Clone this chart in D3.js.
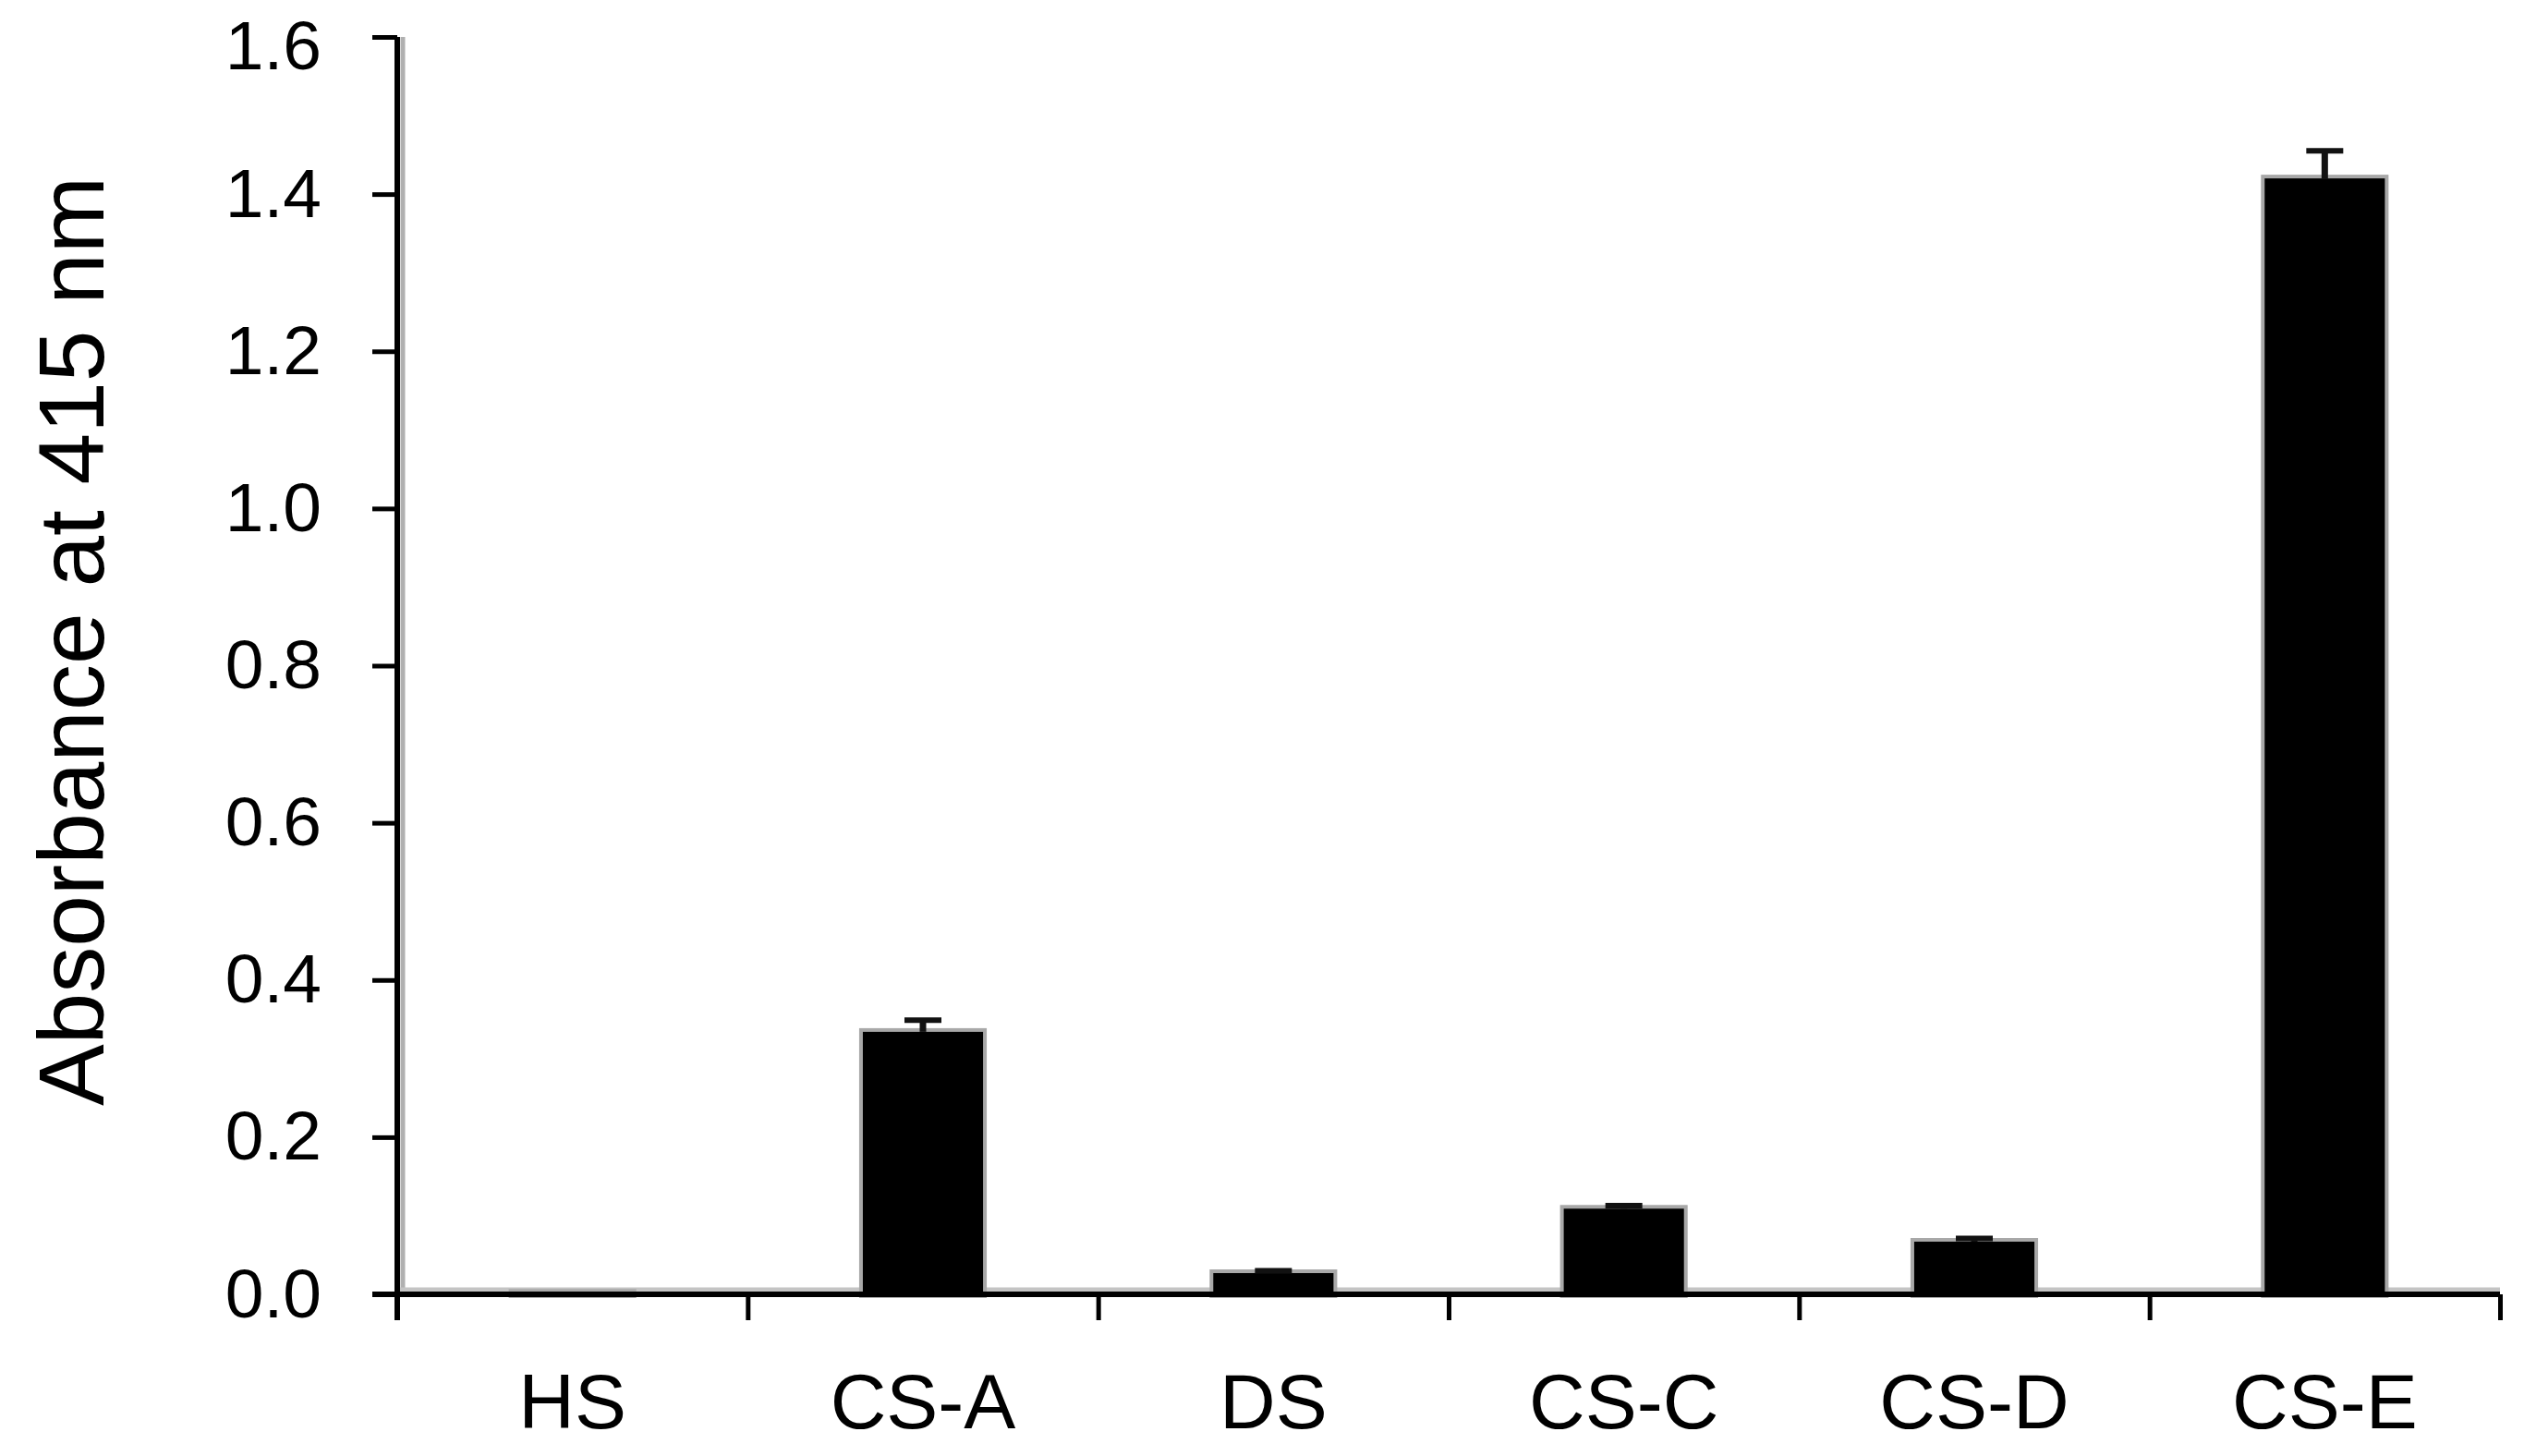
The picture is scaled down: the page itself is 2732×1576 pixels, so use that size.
<!DOCTYPE html>
<html>
<head>
<meta charset="utf-8">
<script src="https://cdn.jsdelivr.net/npm/d3@7"></script>
<style>
  body { margin: 0; background: #fff; }
  svg { display: block; font-family: "Liberation Sans", Arial, sans-serif; }
  .bar { paint-order: stroke; }
</style>
</head>
<body>
<svg id="chart"></svg>
<script>
const categories = ["HS", "CS-A", "DS", "CS-C", "CS-D", "CS-E"];
const values = [0.002, 0.334, 0.027, 0.109, 0.067, 1.420];
const errors = [0, 0.015, 0.003, 0.004, 0.004, 0.035];
const yTicks = [0, 0.2, 0.4, 0.6, 0.8, 1.0, 1.2, 1.4, 1.6];
const yTitle = "Absorbance at 415 nm";

const W = 2732, H = 1576;
const plotLeft = 430, plotRight = 2706, plotTop = 40, plotBottom = 1401;

const svg = d3.select("#chart")
    .attr("width", W)
    .attr("height", H);

const data = categories.map((c, i) => ({cat: c, val: values[i], err: errors[i]}));

const x = d3.scaleBand()
    .domain(categories)
    .range([plotLeft, plotRight])
    .paddingInner(0.657)
    .paddingOuter(0.3285);

// boundaries between categories, used for the ticks
const xb = d3.scaleLinear()
    .domain([0, categories.length])
    .range([plotLeft, plotRight]);

const y = d3.scaleLinear()
    .domain([0, 1.6])
    .range([plotBottom, plotTop]);

// soft grey shadow the scan has next to the axes
svg.append("line")
    .attr("x1", plotLeft + 6).attr("x2", plotLeft + 6)
    .attr("y1", y(1.6)).attr("y2", y(0))
    .attr("stroke", "#b0b0b0").attr("stroke-width", 5);
svg.append("line")
    .attr("x1", plotLeft).attr("x2", plotRight)
    .attr("y1", y(0) - 5).attr("y2", y(0) - 5)
    .attr("stroke", "#c4c4c4").attr("stroke-width", 5);

// bars
svg.selectAll(".bar")
    .data(data)
    .enter().append("rect")
    .attr("class", "bar")
    .attr("x", d => x(d.cat))
    .attr("y", d => y(d.val))
    .attr("width", x.bandwidth())
    .attr("height", d => y(0) - y(d.val))
    .attr("fill", "#000")
    .attr("stroke", "#a8a8a8")
    .attr("stroke-width", 8);

// error bars (upper only)
const eb = svg.selectAll(".err")
    .data(data.filter(d => d.err > 0))
    .enter().append("g")
    .attr("class", "err");

eb.append("line")
    .attr("x1", d => x(d.cat) + x.bandwidth() / 2)
    .attr("x2", d => x(d.cat) + x.bandwidth() / 2)
    .attr("y1", d => y(d.val))
    .attr("y2", d => y(d.val + d.err))
    .attr("stroke", "#111")
    .attr("stroke-width", 7);

eb.append("line")
    .attr("x1", d => x(d.cat) + x.bandwidth() / 2 - 20)
    .attr("x2", d => x(d.cat) + x.bandwidth() / 2 + 20)
    .attr("y1", d => y(d.val + d.err))
    .attr("y2", d => y(d.val + d.err))
    .attr("stroke", "#111")
    .attr("stroke-width", 6);

// y axis
const yAxis = svg.append("g")
    .attr("transform", "translate(" + plotLeft + ",0)")
    .call(d3.axisLeft(y)
        .tickValues(yTicks)
        .tickFormat(d3.format(".1f"))
        .tickSize(27)
        .tickPadding(55));

yAxis.select(".domain").remove();
yAxis.selectAll(".tick line").attr("stroke", "#000").attr("stroke-width", 5);
yAxis.selectAll(".tick text")
    .attr("fill", "#000")
    .style("font-size", "75px")
    .style("font-family", "'Liberation Sans', Arial, sans-serif");
// top label sits a little lower in the original
yAxis.selectAll(".tick text")
    .filter(d => d === 1.6)
    .attr("y", 10);

// x axis: ticks between categories
const xTickAxis = svg.append("g")
    .attr("transform", "translate(0," + plotBottom + ")")
    .call(d3.axisBottom(xb)
        .tickValues(d3.range(categories.length + 1))
        .tickFormat("")
        .tickSize(28));
xTickAxis.select(".domain").remove();
xTickAxis.selectAll(".tick line").attr("stroke", "#000").attr("stroke-width", 5);

// x axis: category labels
const xAxis = svg.append("g")
    .attr("transform", "translate(0," + plotBottom + ")")
    .call(d3.axisBottom(x).tickSize(0).tickPadding(85));
xAxis.select(".domain").remove();
xAxis.selectAll(".tick text")
    .attr("fill", "#000")
    .style("font-size", "84px")
    .style("font-family", "'Liberation Sans', Arial, sans-serif");

// axis lines
svg.append("line")
    .attr("x1", plotLeft).attr("x2", plotLeft)
    .attr("y1", y(1.6)).attr("y2", y(0) + 28)
    .attr("stroke", "#000").attr("stroke-width", 6);
svg.append("line")
    .attr("x1", plotLeft - 27).attr("x2", plotRight)
    .attr("y1", y(0)).attr("y2", y(0))
    .attr("stroke", "#000").attr("stroke-width", 6);

// y title
svg.append("text")
    .attr("transform", "translate(112,694) rotate(-90)")
    .attr("text-anchor", "middle")
    .attr("fill", "#000")
    .style("font-size", "100px")
    .text(yTitle);
</script>
</body>
</html>
